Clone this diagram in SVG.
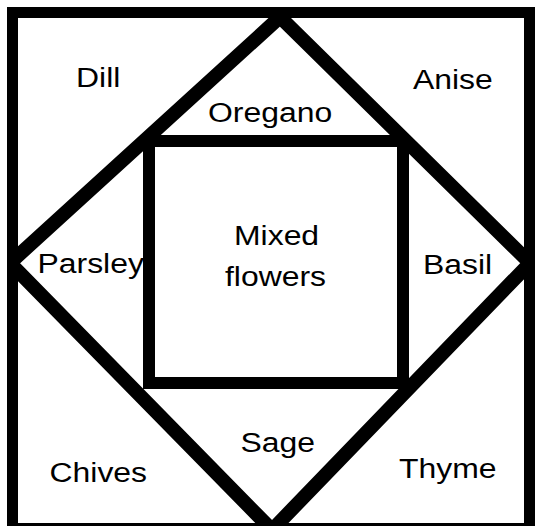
<svg xmlns="http://www.w3.org/2000/svg" width="535" height="526" viewBox="0 0 535 526">
  <defs>
    <clipPath id="inside">
      <rect x="7" y="7" width="528" height="519"/>
    </clipPath>
  </defs>
  <style>
    .ln { fill: none; stroke: #000; stroke-linejoin: miter; }
    .frame { stroke-width: 11; }
    .diamond { stroke-width: 14; }
    .inner { stroke-width: 12; }
    .lbl { font-family: "Liberation Sans", Arial, Helvetica, sans-serif; font-size: 28px; fill: #000; }
  </style>
  <rect x="0" y="0" width="535" height="526" fill="#fff"/>
  <g id="garden-plan">
    <rect id="frame" class="ln frame" x="12.5" y="12.5" width="517" height="516"/>
    <polygon id="diamond" class="ln diamond" clip-path="url(#inside)" points="280,17 530,263 272,530 10,263"/>
    <rect id="center-bed" class="ln inner" x="149" y="141" width="254" height="242"/>
  </g>
  <g id="labels">
    <text id="dill" class="lbl" transform="translate(76,87) scale(1.14,1)">Dill</text>
    <text id="anise" class="lbl" transform="translate(413,89) scale(1.14,1)">Anise</text>
    <text id="oregano" class="lbl" transform="translate(208,122) scale(1.14,1)">Oregano</text>
    <text id="parsley" class="lbl" transform="translate(37.5,273) scale(1.14,1)">Parsley</text>
    <text id="mixed" class="lbl" transform="translate(234,245) scale(1.14,1)">Mixed</text>
    <text id="flowers" class="lbl" transform="translate(225,286) scale(1.14,1)">flowers</text>
    <text id="basil" class="lbl" transform="translate(423,274) scale(1.14,1)">Basil</text>
    <text id="sage" class="lbl" transform="translate(240.5,452) scale(1.14,1)">Sage</text>
    <text id="chives" class="lbl" transform="translate(49.5,482) scale(1.14,1)">Chives</text>
    <text id="thyme" class="lbl" transform="translate(399,478) scale(1.14,1)">Thyme</text>
  </g>
</svg>
